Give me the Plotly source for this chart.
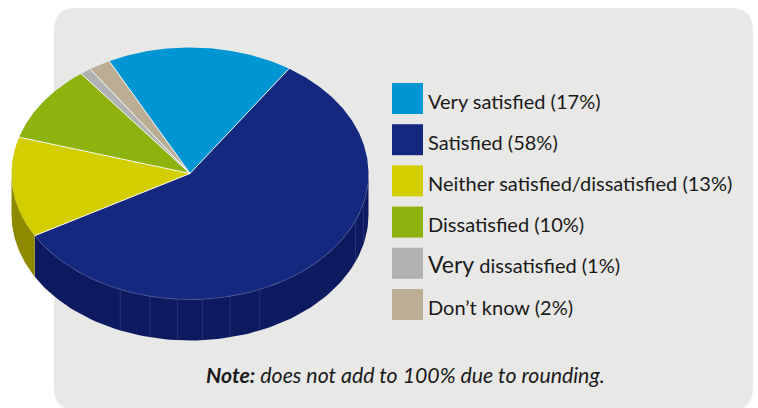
import numpy as np
import plotly.graph_objects as go

categories = ["Very satisfied", "Satisfied", "Neither satisfied/dissatisfied", "Dissatisfied", "Very dissatisfied", "Don’t know"]
values = [17, 58, 13, 10, 1, 2]
colors = ["#0095d3", "#14287f", "#d2ce00", "#8eb20e", "#b0b1b3", "#bcae94"]
side_colors = ["#0077a8", "#0e1a60", "#8e8a00", "#5f7a08", "#808080", "#8a7f6b"]
legend_labels = ["Very satisfied (17%)", "Satisfied (58%)", "Neither satisfied/dissatisfied (13%)",
                 "Dissatisfied (10%)", "<span style='font-size:23px'>Very</span> dissatisfied (1%)", "Don’t know (2%)"]
note_html = "<b>Note:</b> does not add to 100% due to rounding."
seam_angles = [103.6, 112, 157, 167, 176, 184, 193, 203]

CX, CY, RX, RY, DEPTH = 190, 173.5, 178.5, 126, 41
START = -26.9
FONT = "Lato"
W, H = 758, 408


def px(a):
    return CX + RX * np.sin(np.radians(a))


def py(a):
    return CY - RY * np.cos(np.radians(a))


fig = go.Figure()
edges = START + np.concatenate([[0], np.cumsum(values)]) / sum(values) * 360

# rim of the disc
for i, c in enumerate(side_colors):
    a0, a1 = max(edges[i], 90), min(edges[i + 1], 270)
    if a1 <= a0:
        continue
    t = np.linspace(a0, a1, 90)
    xs = np.concatenate([px(t), px(t[::-1])])
    ys = np.concatenate([py(t), py(t[::-1]) + DEPTH])
    fig.add_trace(go.Scatter(x=xs, y=ys, mode="lines", fill="toself", fillcolor=c,
                             line=dict(width=0), hoverinfo="skip"))

for a in seam_angles:
    fig.add_trace(go.Scatter(x=[px(a), px(a)], y=[py(a), py(a) + DEPTH], mode="lines",
                             line=dict(color="#2f3c80", width=0.7), hoverinfo="skip"))

# top face
for i, (name, c) in enumerate(zip(categories, colors)):
    t = np.linspace(edges[i], edges[i + 1], max(int(edges[i + 1] - edges[i]) * 2, 6))
    xs = np.concatenate([[CX], px(t), [CX]])
    ys = np.concatenate([[CY], py(t), [CY]])
    fig.add_trace(go.Scatter(x=xs, y=ys, mode="lines", fill="toself", fillcolor=c, name=name,
                             line=dict(width=0), hoverinfo="name"))

# faint lit edge along the front of the disc
t = np.linspace(95, 236, 150)
fig.add_trace(go.Scatter(x=px(t), y=py(t), mode="lines",
                         line=dict(color="#46538f", width=0.8), hoverinfo="skip"))

# white separators between slices
for a in edges[:-1]:
    fig.add_trace(go.Scatter(x=[CX, px(a)], y=[CY, py(a)], mode="lines",
                             line=dict(color="rgba(255,255,255,0.9)", width=1), hoverinfo="skip"))

# legend
rows = [98.5 + 41.2 * i for i in range(6)]
fig.add_trace(go.Scatter(
    x=[407.5] * 6, y=rows, mode="markers",
    marker=dict(symbol="square", size=31, color=colors, line=dict(width=0)), hoverinfo="skip"))
fig.add_trace(go.Scatter(
    x=[428] * 6, y=[v + 5 for v in rows], mode="text",
    text=legend_labels, textposition="middle right",
    textfont=dict(family=FONT, size=20, color="#1a1a1a"), hoverinfo="skip"))

fig.add_annotation(x=405.5, y=375, text="<i>" + note_html + "</i>", showarrow=False,
                   font=dict(family=FONT, size=21.3, color="#1a1a1a"), xanchor="center", yanchor="middle")

r = 22
L, T, R, B = 54, 8, 753, 410
fig.add_shape(type="path", layer="below", fillcolor="#e8e8e6", line=dict(width=0),
              path=f"M{L+r},{T} L{R-r},{T} Q{R},{T} {R},{T+r} L{R},{B-r} Q{R},{B} {R-r},{B} "
                   f"L{L+r},{B} Q{L},{B} {L},{B-r} L{L},{T+r} Q{L},{T} {L+r},{T} Z")

fig.update_layout(width=W, height=H, margin=dict(l=0, r=0, t=0, b=0), showlegend=False,
                  paper_bgcolor="white", plot_bgcolor="white",
                  xaxis=dict(range=[0, W], visible=False, fixedrange=True),
                  yaxis=dict(range=[H, 0], visible=False, fixedrange=True))
fig.write_html("out.html", post_script="document.body.style.margin='0';document.body.style.overflow='hidden';",
               config={"displayModeBar": False})
